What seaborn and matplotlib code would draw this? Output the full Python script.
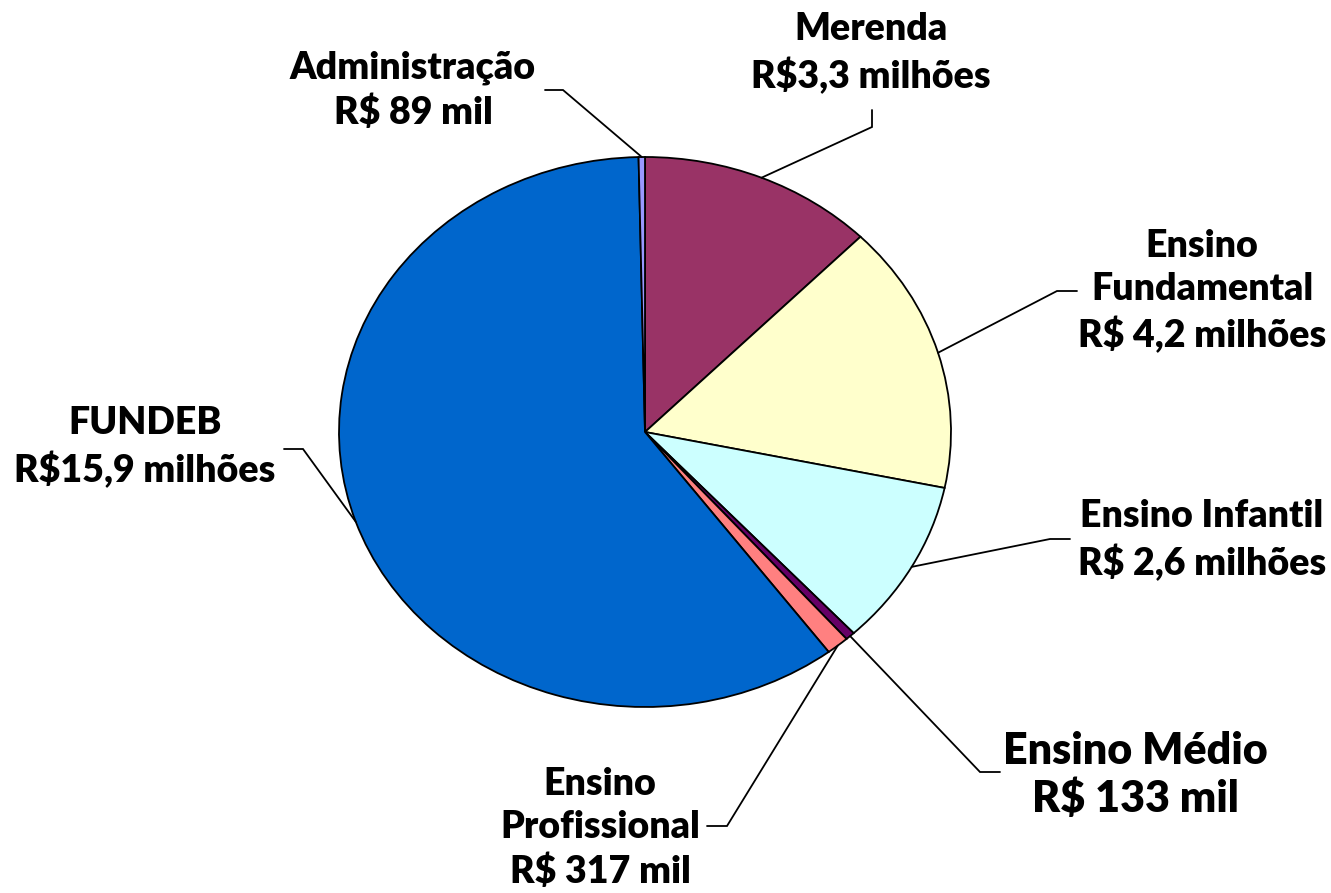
import numpy as np
import matplotlib
matplotlib.use("Agg")
import matplotlib.pyplot as plt
import seaborn as sns

# values in R$ milhoes, clockwise from 12 o'clock
categorias = ["Merenda", "Ensino Fundamental", "Ensino Infantil", "Ensino Médio",
              "Ensino Profissional", "FUNDEB", "Administração"]
valores = [3.3, 4.2, 2.6, 0.133, 0.317, 15.9, 0.089]
rotulos = ["Merenda\nR$3,3 milhões",
           "Ensino\nFundamental\nR$ 4,2 milhões",
           "Ensino Infantil\nR$ 2,6 milhões",
           "Ensino Médio\nR$ 133 mil",
           "Ensino\nProfissional\nR$ 317 mil",
           "FUNDEB\nR$15,9 milhões",
           "Administração\nR$ 89 mil"]
cores = ["#993366", "#FFFFCC", "#CCFFFF", "#660066", "#FF8080", "#0066CC", "#9999FF"]

# layout (pixels of the 1331x893 canvas): label centre, leader elbow, leader end
W, H = 1331, 893
CX, CY, RX, RY = 645, 432, 306, 275
pos_rotulo = [(871, 53), (1202, 291), (1202, 540), (1135, 775), (600, 828), (145, 447), (413, 90)]
cotovelo = [(872, 127), (1057, 291), (1050, 539), (980, 772), (727, 826), (303, 449), (563, 90)]
ponta = [(872, 110), (1077, 291), (1070, 539), (1000, 772), (707, 826), (284, 449), (545, 90)]
tam_fonte = [27, 27, 27, 31, 27, 27, 27]
espaco = [1.33, 1.33, 1.33, 1.23, 1.33, 1.33, 1.33]


def px(p):
    return ((p[0] - CX) / RX, (CY - p[1]) / RY)


sns.set_theme(style="white")
plt.rcParams['font.family'] = ['Lato', 'DejaVu Sans']

fig = plt.figure(figsize=(W / 100, H / 100), dpi=100)
ax = fig.add_axes([0, 0, 1, 1])
pal = sns.color_palette(cores)

wedges, _ = ax.pie(valores, colors=pal, startangle=90, counterclock=False,
                   wedgeprops=dict(edgecolor="black", linewidth=1.3))
ax.set_aspect("auto")
ax.set_xlim(-CX / RX, (W - CX) / RX)
ax.set_ylim((CY - H) / RY, CY / RY)
ax.axis("off")

for w, txt, lp, el, en, fs, ls in zip(wedges, rotulos, pos_rotulo, cotovelo, ponta,
                                      tam_fonte, espaco):
    ang = np.deg2rad((w.theta1 + w.theta2) / 2)
    a = (np.cos(ang), np.sin(ang))
    e1, e2 = px(el), px(en)
    ax.plot([a[0], e1[0], e2[0]], [a[1], e1[1], e2[1]], color="black", lw=1.3,
            solid_joinstyle="miter")
    x, y = px(lp)
    ax.text(x, y, txt, ha="center", va="center", fontsize=fs, fontweight="heavy",
            linespacing=ls, color="black")

fig.savefig("out.png", dpi=100)
